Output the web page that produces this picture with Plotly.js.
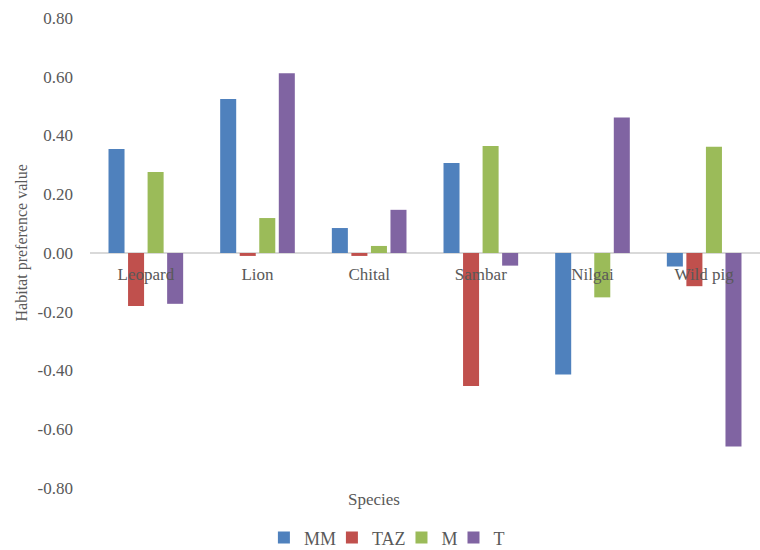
<!DOCTYPE html>
<html>
<head>
<meta charset="utf-8">
<script src="https://cdn.plot.ly/plotly-3.0.1.min.js"></script>
<style>html,body{margin:0;padding:0;background:#fff;}#chart{width:760px;height:550px;}</style>
</head>
<body>
<div id="chart"></div>
<script>
const species = ["Leopard", "Lion", "Chital", "Sambar", "Nilgai", "Wild pig"];
const MM  = [0.354, 0.524, 0.085, 0.306, -0.414, -0.046];
const TAZ = [-0.180, -0.010, -0.010, -0.453, 0.000, -0.113];
const M   = [0.276, 0.119, 0.024, 0.364, -0.151, 0.362];
const T   = [-0.173, 0.612, 0.147, -0.043, 0.461, -0.659];
const yTickVals = [0.8, 0.6, 0.4, 0.2, 0, -0.2, -0.4, -0.6, -0.8];
const yTickText = ["0.80", "0.60", "0.40", "0.20", "0.00", "-0.20", "-0.40", "-0.60", "-0.80"];

const seriesNames = ["MM", "TAZ", "M", "T"];
const seriesVals = [MM, TAZ, M, T];
const colors = ["#4f81bd", "#c0504d", "#9bbb59", "#8064a2"];

const font = "Liberation Serif, Times New Roman, serif";
const traces = seriesNames.map((n, i) => ({
  type: "bar", name: n, x: species, y: seriesVals[i],
  marker: {color: colors[i], line: {width: 0}},
  hoverinfo: "none"
}));

const layout = {
  width: 760, height: 550,
  margin: {l: 90, r: 0, t: 18, b: 62},
  paper_bgcolor: "#fff", plot_bgcolor: "#fff",
  font: {family: font, color: "#595959", size: 17},
  barmode: "group", bargap: 0.3, bargroupgap: 0.18,
  showlegend: true,
  legend: {orientation: "h", xref: "container", yref: "container", x: 0.515, xanchor: "center", y: 0.022, yanchor: "middle",
           font: {family: font, size: 18, color: "#595959"}, itemwidth: 30, indentation: -9, traceorder: "normal"},
  xaxis: {anchor: "free", position: 0.5, showline: false, showgrid: false, zeroline: false,
          ticks: "", tickfont: {family: font, size: 17, color: "#595959"}, ticklabelstandoff: 9, fixedrange: true},
  yaxis: {range: [-0.8, 0.8], tickvals: yTickVals, ticktext: yTickText, showgrid: false,
          zeroline: true, zerolinecolor: "#d9d9d9", zerolinewidth: 1.5, showline: false, ticks: "",
          ticklabelstandoff: 16, tickfont: {family: font, size: 17, color: "#595959"}},
  annotations: [
    {text: "Species", xref: "paper", yref: "paper", x: 0.424, y: -0.024, xanchor: "center", yanchor: "middle",
     showarrow: false, font: {family: font, size: 17, color: "#595959"}},
    {text: "Habitat preference value", xref: "paper", yref: "paper", x: -0.101, y: 0.521, xanchor: "center", yanchor: "middle",
     textangle: -90, showarrow: false, font: {family: font, size: 16, color: "#595959"}}
  ]
};
Plotly.newPlot("chart", traces, layout, {displayModeBar: false, staticPlot: true});
</script>
</body>
</html>
